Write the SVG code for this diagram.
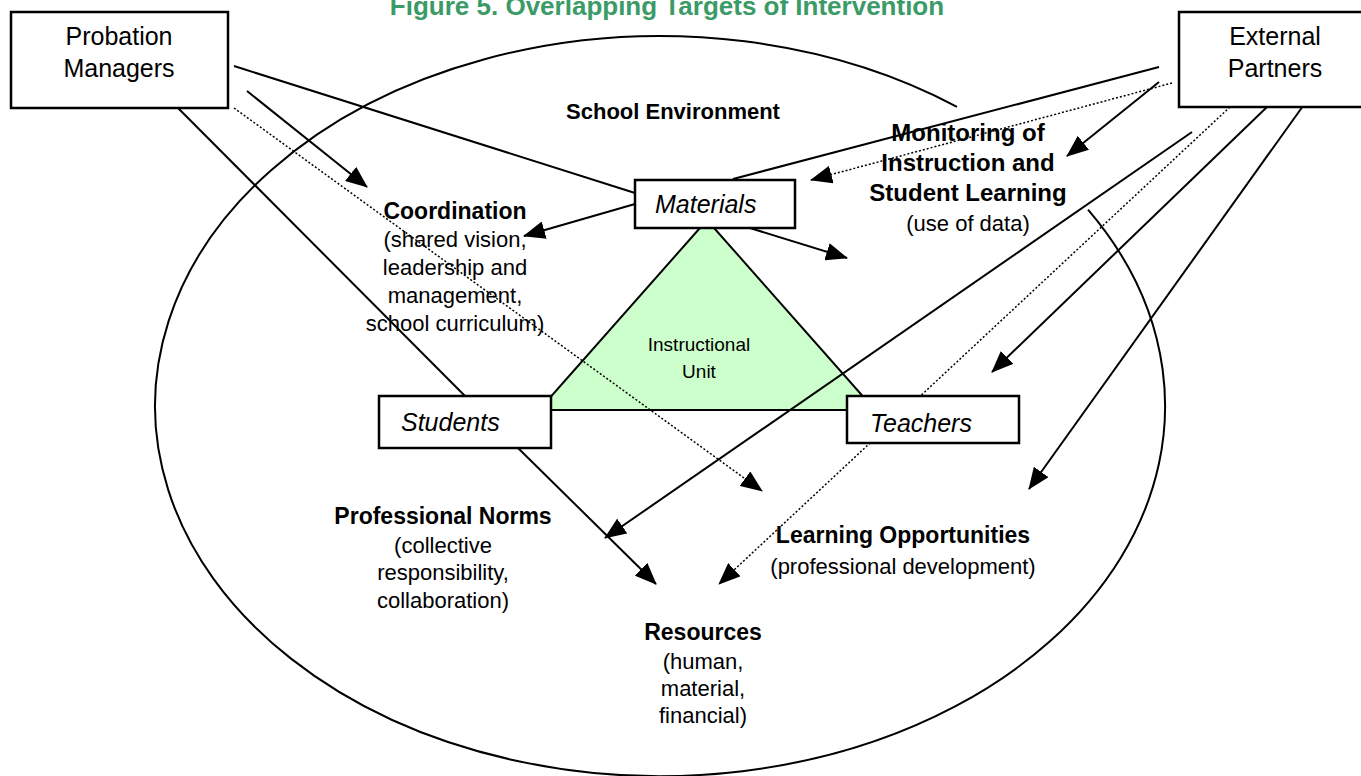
<svg xmlns="http://www.w3.org/2000/svg" width="1361" height="776" viewBox="0 0 1361 776">
<style>
  text { font-family: "Liberation Sans", Arial, sans-serif; fill: #000; }
  .title { font-size: 26px; font-weight: bold; fill: #3a9b67; text-anchor: middle; }
  .box { fill: #fff; stroke: #000; stroke-width: 2.5; }
  .boxlbl { font-size: 25px; text-anchor: middle; }
  .ital { font-size: 25px; font-style: italic; }
  .head { font-size: 23px; font-weight: bold; text-anchor: middle; }
  .sub { font-size: 22px; text-anchor: middle; }
  .small { font-size: 19px; text-anchor: middle; }
  .ln { fill: none; stroke: #000; stroke-width: 2; }
  .dot { fill: none; stroke: #000; stroke-width: 1.5; stroke-dasharray: 2 2; }
  .arr { marker-end: url(#ah); }
</style>
<defs>
  <marker id="ah" viewBox="0 0 22 18" refX="21" refY="9" markerWidth="22" markerHeight="18" markerUnits="userSpaceOnUse" orient="auto">
    <path d="M0,0 L22,9 L0,18 Z" fill="#000"/>
  </marker>
</defs>

<text class="title" x="667" y="15">Figure 5. Overlapping Targets of Intervention</text>

<g id="school-environment">
  <path class="ln" d="M 957 106.8 A 505 370 0 1 0 1088 209.6"/>
  <text class="head" x="673" y="119" style="font-size:22px">School Environment</text>
</g>

<g id="instructional-unit">
  <polygon points="707,220 539,410 875,410" fill="#ccffcc" stroke="#000" stroke-width="2"/>
  <text class="small" x="699" y="351">Instructional</text>
  <text class="small" x="699" y="378">Unit</text>
</g>

<g id="connectors">
  <line class="ln" x1="234" y1="66" x2="635" y2="193"/>
  <line class="ln arr" x1="247" y1="91" x2="367" y2="187"/>
  <line class="dot arr" x1="234" y1="108" x2="762" y2="491"/>
  <line class="ln" x1="177" y1="107" x2="465" y2="396"/>
  <line class="ln arr" x1="635" y1="204" x2="524" y2="236"/>
  <line class="ln arr" x1="750" y1="228" x2="847" y2="258"/>
  <line class="ln arr" x1="518" y1="448" x2="656" y2="584"/>
  <line class="ln" x1="1159" y1="67" x2="733" y2="179"/>
  <line class="dot arr" x1="1172" y1="83" x2="811" y2="180"/>
  <line class="ln arr" x1="1159" y1="82" x2="1067" y2="156"/>
  <line class="ln arr" x1="1192" y1="132" x2="605" y2="538"/>
  <line class="dot arr" x1="1230" y1="107" x2="719" y2="584"/>
  <line class="ln arr" x1="1267" y1="107" x2="992" y2="372"/>
  <line class="ln arr" x1="1303" y1="106" x2="1029" y2="489"/>
</g>

<g id="probation-managers">
  <rect class="box" x="11" y="12" width="217" height="96"/>
  <text class="boxlbl" x="119" y="45">Probation</text>
  <text class="boxlbl" x="119" y="77">Managers</text>
</g>

<g id="external-partners">
  <rect class="box" x="1179" y="12" width="190" height="95"/>
  <text class="boxlbl" x="1275" y="45">External</text>
  <text class="boxlbl" x="1275" y="77">Partners</text>
</g>

<g id="materials">
  <rect class="box" x="635" y="180" width="160" height="48"/>
  <text class="ital" x="655" y="213">Materials</text>
</g>

<g id="students">
  <rect class="box" x="379" y="396" width="172" height="52"/>
  <text class="ital" x="401" y="431">Students</text>
</g>

<g id="teachers">
  <rect class="box" x="847" y="396" width="172" height="47"/>
  <text class="ital" x="870" y="432">Teachers</text>
</g>

<g id="monitoring">
  <text class="head" x="968" y="141" style="font-size:24px">Monitoring of</text>
  <text class="head" x="968" y="171" style="font-size:24px">Instruction and</text>
  <text class="head" x="968" y="201" style="font-size:24px">Student Learning</text>
  <text class="sub" x="968" y="231">(use of data)</text>
</g>

<g id="coordination">
  <text class="head" x="455" y="219">Coordination</text>
  <text class="sub" x="455" y="247">(shared vision,</text>
  <text class="sub" x="455" y="275">leadership and</text>
  <text class="sub" x="455" y="303">management,</text>
  <text class="sub" x="455" y="331">school curriculum)</text>
</g>

<g id="professional-norms">
  <text class="head" x="443" y="524">Professional Norms</text>
  <text class="sub" x="443" y="553">(collective</text>
  <text class="sub" x="443" y="580">responsibility,</text>
  <text class="sub" x="443" y="608">collaboration)</text>
</g>

<g id="learning-opportunities">
  <text class="head" x="903" y="543">Learning Opportunities</text>
  <text class="sub" x="903" y="574">(professional development)</text>
</g>

<g id="resources">
  <text class="head" x="703" y="640">Resources</text>
  <text class="sub" x="703" y="669">(human,</text>
  <text class="sub" x="703" y="696">material,</text>
  <text class="sub" x="703" y="723">financial)</text>
</g>
</svg>
